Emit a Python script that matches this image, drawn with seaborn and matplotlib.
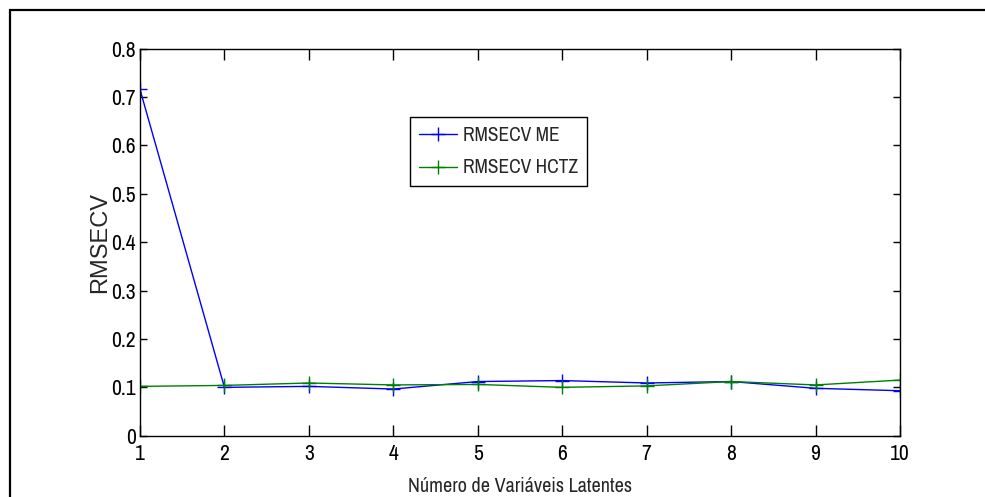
import seaborn as sns
import pandas as pd
import matplotlib.pyplot as plt
from matplotlib.patches import Rectangle

# values
n_vl = [1, 2, 3, 4, 5, 6, 7, 8, 9, 10]
rmsecv_me = [0.716, 0.100, 0.102, 0.0965, 0.112, 0.114, 0.109, 0.112, 0.098, 0.093]
rmsecv_hctz = [0.102, 0.104, 0.109, 0.105, 0.106, 0.100, 0.103, 0.112, 0.105, 0.115]
series = ["RMSECV ME", "RMSECV HCTZ"]
cores = ["#0000ff", "#008000"]

df = pd.DataFrame({
    "vl": n_vl * 2,
    "value": rmsecv_me + rmsecv_hctz,
    "serie": [series[0]] * len(n_vl) + [series[1]] * len(n_vl),
})

sns.set_style("ticks")
plt.rcParams['font.family'] = ['Archivo Narrow', 'Liberation Sans', 'DejaVu Sans']

fig = plt.figure(figsize=(9.85, 4.97), dpi=100)
ax = fig.add_axes([0.1421, 0.1233, 0.7716, 0.7787])

sns.lineplot(data=df, x="vl", y="value", hue="serie", hue_order=series,
             palette=cores, marker="+", markersize=10,
             markeredgewidth=1.0, linewidth=1.0, ax=ax)
# seaborn paints + markers with a white edge, put the line colour back
for ln in ax.lines:
    ln.set_markeredgecolor(ln.get_color())

ax.set_xlim(1, 10)
ax.set_ylim(0, 0.8)
ax.set_xticks(n_vl)
ax.set_yticks([0, 0.1, 0.2, 0.3, 0.4, 0.5, 0.6, 0.7, 0.8])
ax.set_yticklabels(["0", "0.1", "0.2", "0.3", "0.4", "0.5", "0.6", "0.7", "0.8"])
ax.tick_params(axis="both", direction="in", top=True, right=True,
               labelsize=15.5, colors="black", width=1.0)
ax.tick_params(axis="x", length=8, pad=6)
ax.tick_params(axis="y", length=5, pad=3)
for s in ax.spines.values():
    s.set_visible(True)
    s.set_color("black")
    s.set_linewidth(1.0)

ax.set_xlabel("Número de Variáveis Latentes", fontsize=14.5, labelpad=9)
ax.set_ylabel("RMSECV", fontsize=17, family="Liberation Sans", labelpad=0)

leg = ax.legend(loc="upper left", bbox_to_anchor=(0.355, 0.8235),
                borderaxespad=0, fontsize=14, handlelength=2.0,
                handletextpad=0.3, fancybox=False, framealpha=1,
                edgecolor="black", borderpad=0.45, labelspacing=0.7)
leg.get_frame().set_linewidth(1.0)
for h in leg.legend_handles:
    h.set_markeredgecolor(h.get_color())

# outer frame around the picture
fig.patches.append(Rectangle((10 / 985, -0.2), 1.2, (497 - 10) / 497 + 0.2,
                             transform=fig.transFigure, fill=False,
                             edgecolor="black", linewidth=1.6))

fig.savefig("out.png", dpi=100)
